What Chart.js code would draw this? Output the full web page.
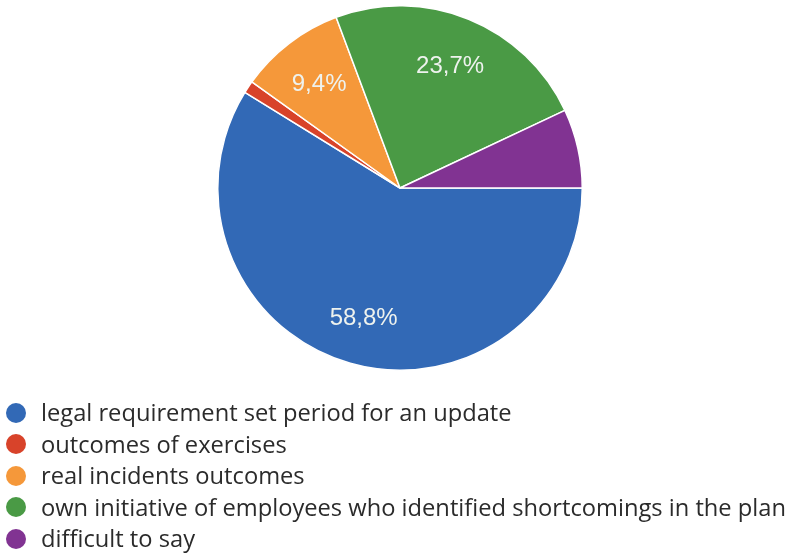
<!DOCTYPE html>
<html>
<head>
<meta charset="utf-8">
<script src="https://cdn.jsdelivr.net/npm/chart.js@4"></script>
<style>
  html, body { margin: 0; padding: 0; background: #fff; }
  #wrap { position: relative; width: 795px; height: 560px; overflow: hidden; }
  #chart { position: absolute; left: 0; top: 0; }
  #legend { position: absolute; left: 6px; top: 397px; margin: 0; padding: 0; list-style: none;
            font-family: "Open Sans", sans-serif; font-size: 23.7px; color: #2b2b2b; }
  #legend li { height: 31.5px; line-height: 31.5px; white-space: nowrap; display: flex; align-items: center; }
  #legend .dot { width: 20px; height: 20px; border-radius: 50%; margin-right: 15px; flex: none; }
</style>
</head>
<body>
<div id="wrap">
  <canvas id="chart" width="795" height="560"></canvas>
  <ul id="legend"></ul>
</div>
<script>
const categories = [
  'legal requirement set period for an update',
  'outcomes of exercises',
  'real incidents outcomes',
  'own initiative of employees who identified shortcomings in the plan',
  'difficult to say'
];
const shares = [58.8, 1.1, 9.4, 23.7, 7.0];
const sliceLabels = ['58,8%', '', '9,4%', '23,7%', ''];
const sliceColors = ['#3269b6', '#d8432a', '#f5983a', '#4a9a45', '#813392'];

// percentage text inside the bigger slices
const sliceLabelPlugin = {
  id: 'sliceLabels',
  afterDatasetsDraw(chart) {
    const ctx = chart.ctx;
    const meta = chart.getDatasetMeta(0);
    ctx.save();
    ctx.font = '24px "Liberation Sans", Arial, sans-serif';
    ctx.fillStyle = '#eef2ee';
    ctx.textAlign = 'center';
    ctx.textBaseline = 'middle';
    meta.data.forEach((arc, i) => {
      if (!sliceLabels[i]) return;
      const p = arc.getProps(['x', 'y', 'startAngle', 'endAngle', 'outerRadius'], true);
      const mid = (p.startAngle + p.endAngle) / 2;
      const r = p.outerRadius * 0.73;
      ctx.fillText(sliceLabels[i], p.x + Math.cos(mid) * r, p.y + Math.sin(mid) * r + 2);
    });
    ctx.restore();
  }
};

new Chart(document.getElementById('chart'), {
  type: 'pie',
  data: {
    labels: categories,
    datasets: [{
      data: shares,
      backgroundColor: sliceColors,
      borderColor: '#ffffff',
      borderWidth: 1.5
    }]
  },
  options: {
    responsive: false,
    animation: false,
    rotation: 90,
    layout: { padding: { top: 5, bottom: 189, left: 5, right: 0 } },
    plugins: {
      legend: { display: false },
      tooltip: { enabled: false }
    }
  },
  plugins: [sliceLabelPlugin]
});

// legend list below the pie
const legend = document.getElementById('legend');
categories.forEach((name, i) => {
  const li = document.createElement('li');
  const dot = document.createElement('span');
  dot.className = 'dot';
  dot.style.background = sliceColors[i];
  li.appendChild(dot);
  li.appendChild(document.createTextNode(name));
  legend.appendChild(li);
});
</script>
</body>
</html>
